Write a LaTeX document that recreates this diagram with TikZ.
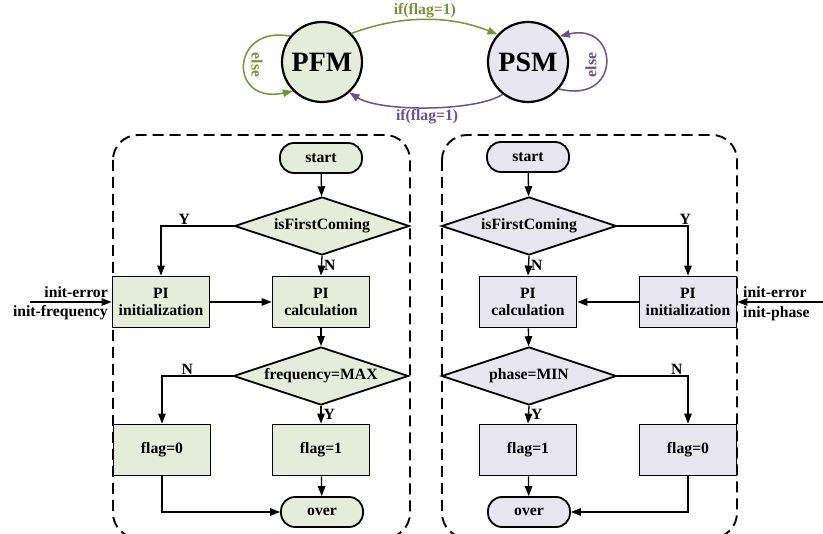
\documentclass[tikz,border=0pt]{standalone}
\usepackage{fontspec}
\setmainfont{Liberation Serif}
\usetikzlibrary{shapes.geometric,arrows.meta}
\definecolor{pfmfill}{RGB}{228,237,217}
\definecolor{psmfill}{RGB}{231,229,238}
\definecolor{pfmline}{RGB}{118,146,60}
\definecolor{psmline}{RGB}{102,82,142}

\begin{document}
\begin{tikzpicture}[x=1pt,y=-1pt,
   font=\fontsize{15.7}{17}\selectfont\bfseries,
   >={Triangle[length=10pt,width=7.5pt]},
   box/.style={rectangle,draw,line width=1.8pt,minimum width=97pt,minimum height=51pt,align=center,inner sep=2pt},
   term/.style={rectangle,draw,rounded corners=14pt,line width=1.8pt,minimum width=82pt,minimum height=30pt},
   cond/.style={diamond,draw,line width=1.8pt,aspect=3,inner sep=0pt,minimum width=175pt,minimum height=58pt},
   mode/.style={circle,draw,line width=2.2pt,minimum size=80pt,font=\fontsize{28}{30}\selectfont\bfseries},
   flow/.style={->,line width=1.3pt},
   frame/.style={draw,dashed,dash pattern=on 11pt off 6pt,line width=1.9pt,rounded corners=25pt},
   lbl/.style={inner sep=1pt}]
   \useasboundingbox (0,0) rectangle (823,534);
   % Modes
   \node[mode,fill=pfmfill] (pfm) at (322,62) {PFM};
   \node[mode,fill=psmfill] (psm) at (528,62) {PSM};
   \draw[flow,pfmline,line width=1.5pt] (pfm.44) .. controls (400,15) and (450,15) .. (psm.138)
     node[midway,above,lbl] {if(flag=1)};
   \draw[flow,psmline,line width=1.5pt] (psm.232) .. controls (475,112) and (380,112) .. (pfm.312)
     node[midway,below,lbl] {if(flag=1)};
   \draw[flow,pfmline,line width=1.5pt] (pfm.141) .. controls (230,25) and (228,105) .. (pfm.225);
   \node[pfmline,rotate=-90] (elsea) at (257,65) {else};
   \draw[flow,psmline,line width=1.5pt] (psm.319) .. controls (622,105) and (620,22) .. (psm.39);
   \node[psmline,rotate=90] (elseb) at (591,65) {else};
   % Frames
   \path[frame] (113,135) rectangle (410,538);
   \path[frame] (442,135) rectangle (737,538);
   % Left
   \node[term,fill=pfmfill] (starta) at (321,158) {start};
   \node[cond,fill=pfmfill] (firsta) at (322,226) {isFirstComing};
   \node[box,fill=pfmfill] (inita) at (161,302) {PI\\initialization};
   \node[box,fill=pfmfill] (calca) at (321,302) {PI\\calculation};
   \node[cond,fill=pfmfill] (testa) at (321,376) {frequency=MAX};
   \node[box,fill=pfmfill] (zeroa) at (162,450) {flag=0};
   \node[box,fill=pfmfill] (onea) at (321,450) {flag=1};
   \node[term,fill=pfmfill] (overa) at (322,512) {over};
   \coordinate (ina) at (30,302);
   \node[lbl,anchor=east] (errora) at (109,292) {init-error};
   \node[lbl,anchor=east] (freqa) at (109,313) {init-frequency};
   \draw[flow] (starta) -- (firsta);
   \draw[flow] (firsta.west) -| node[pos=0.34,above,lbl] {Y} (inita.north);
   \draw[flow] (firsta.south) -- node[right,inner sep=2pt] {N} (calca.north);
   \draw[flow] (ina) -- (inita);
   \draw[flow] (inita) -- (calca);
   \draw[flow] (calca) -- (testa);
   \draw[flow] (testa.west) -| node[pos=0.32,above,lbl] {N} (zeroa.north);
   \draw[flow] (testa.south) -- node[right,inner sep=2pt] {Y} (onea.north);
   \draw[flow] (onea) -- (overa);
   \draw[flow] (zeroa.south) |- (overa.west);
   % Right
   \node[term,fill=psmfill] (startb) at (528,157) {start};
   \node[cond,fill=psmfill] (firstb) at (529,226) {isFirstComing};
   \node[box,fill=psmfill] (calcb) at (528,302) {PI\\calculation};
   \node[box,fill=psmfill] (initb) at (688,302) {PI\\initialization};
   \node[cond,fill=psmfill] (testb) at (529,376) {phase=MIN};
   \node[box,fill=psmfill] (oneb) at (528,450) {flag=1};
   \node[box,fill=psmfill] (zerob) at (688,450) {flag=0};
   \node[term,fill=psmfill] (overb) at (529,512) {over};
   \coordinate (inb) at (823,302);
   \node[lbl,anchor=west] (errorb) at (742,292) {init-error};
   \node[lbl,anchor=west] (phaseb) at (742,314) {init-phase};
   \draw[flow] (startb) -- (firstb);
   \draw[flow] (firstb.east) -| node[pos=0.48,above,lbl] {Y} (initb.north);
   \draw[flow] (firstb.south) -- node[right,inner sep=2pt] {N} (calcb.north);
   \draw[flow] (inb) -- (initb);
   \draw[flow] (initb) -- (calcb);
   \draw[flow] (calcb) -- (testb);
   \draw[flow] (testb.east) -| node[pos=0.42,above,lbl] {N} (zerob.north);
   \draw[flow] (testb.south) -- node[right,inner sep=2pt] {Y} (oneb.north);
   \draw[flow] (oneb) -- (overb);
   \draw[flow] (zerob.south) |- (overb.east);
\end{tikzpicture}
\end{document}
